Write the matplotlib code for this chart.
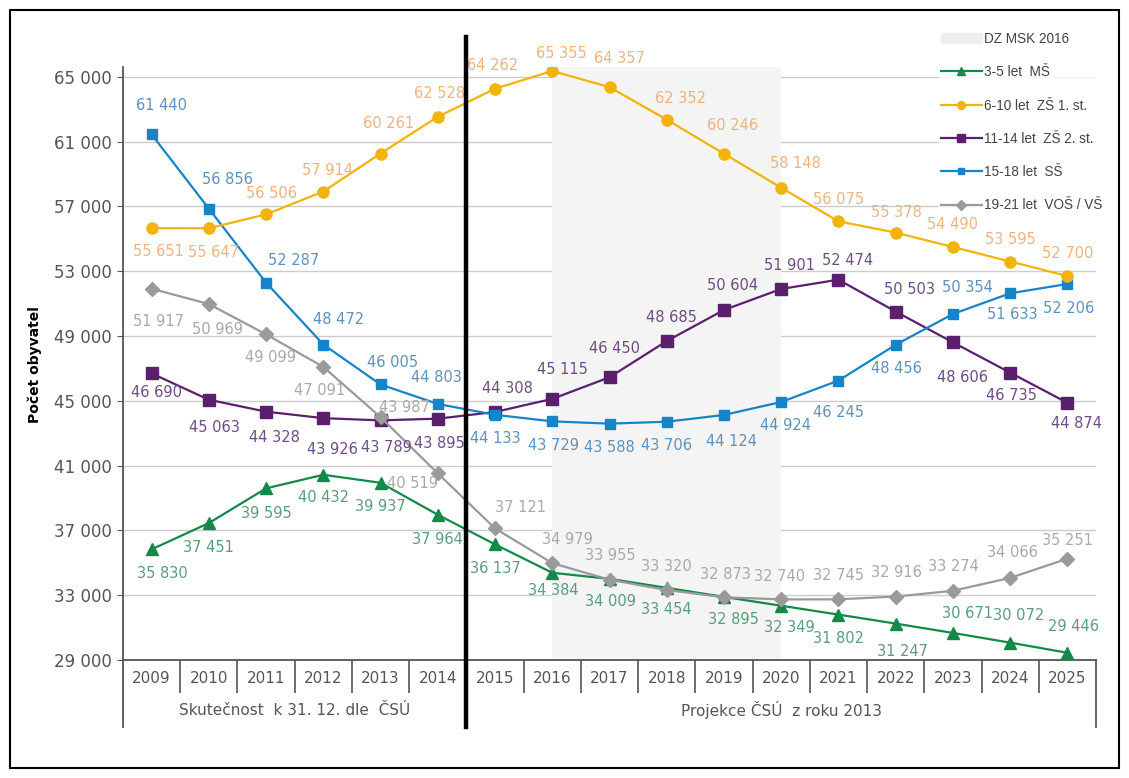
import matplotlib
matplotlib.use('Agg')
import matplotlib.pyplot as plt
import matplotlib.transforms as mtransforms
from matplotlib.lines import Line2D
from matplotlib.patches import Patch, Rectangle
import numpy as np

plt.rcParams['font.family'] = ['DejaVu Sans']

years = [2009, 2010, 2011, 2012, 2013, 2014, 2015, 2016, 2017,
         2018, 2019, 2020, 2021, 2022, 2023, 2024, 2025]

ms_3_5 = [35830, 37451, 39595, 40432, 39937, 37964, 36137, 34384, 34009,
          33454, 32895, 32349, 31802, 31247, 30671, 30072, 29446]
zs1_6_10 = [55651, 55647, 56506, 57914, 60261, 62528, 64262, 65355, 64357,
            62352, 60246, 58148, 56075, 55378, 54490, 53595, 52700]
zs2_11_14 = [46690, 45063, 44328, 43926, 43789, 43895, 44308, 45115, 46450,
             48685, 50604, 51901, 52474, 50503, 48606, 46735, 44874]
ss_15_18 = [61440, 56856, 52287, 48472, 46005, 44803, 44133, 43729, 43588,
            43706, 44124, 44924, 46245, 48456, 50354, 51633, 52206]
vs_19_21 = [51917, 50969, 49099, 47091, 43987, 40519, 37121, 34979, 33955,
            33320, 32873, 32740, 32745, 32916, 33274, 34066, 35251]

legend_names = ['3-5 let  MŠ', '6-10 let  ZŠ 1. st.', '11-14 let  ZŠ 2. st.',
                '15-18 let  SŠ', '19-21 let  VOŠ / VŠ']
band_label = 'DZ MSK 2016'
group_labels = ['Skutečnost  k 31. 12. dle  ČSÚ', 'Projekce ČSÚ  z roku 2013']
y_ticks = list(range(29000, 65001, 4000))

# label offsets in pixels (dx right, dy down) per point
off_ms = [(11, 24), (0, 24), (0, 25), (0, 23), (0, 24), (0, 25), (0, 24), (1, 18), (1, 23),
          (0, 22), (9, 23), (8, 22), (0, 24), (7, 28), (15, -19), (8, -27), (6, -26)]
off_zs1 = [(7, 23), (5, 24), (5, -21), (4, -21), (8, -30), (2, -23), (-2, -23), (9, -17), (10, -29),
           (14, -21), (9, -28), (14, -24), (0, -22), (1, -20), (0, -23), (0, -22), (0, -23)]
off_zs2 = [(5, 19), (6, 28), (8, 26), (9, 31), (6, 27), (2, 25), (12, -23), (10, -29), (5, -29),
           (5, -24), (9, -24), (8, -23), (9, -19), (14, -22), (10, 35), (1, 23), (9, 21)]
off_ss = [(10, -29), (19, -29), (28, -22), (15, -25), (12, -22), (-1, -26), (0, 24), (1, 24), (0, 24),
          (0, 24), (8, 27), (4, 24), (0, 32), (1, 24), (15, -27), (2, 21), (1, 24)]
off_vs = [(7, 33), (9, 25), (4, 23), (-4, 24), (24, -10), (-25, 10), (25, -21), (15, -24), (1, -24),
          (0, -24), (1, -23), (-2, -23), (0, -24), (1, -24), (1, -24), (2, -25), (0, -18)]

series = [
    # values, offsets, line colour, label colour, marker, marker size, zorder
    (ms_3_5, off_ms, '#13894a', '#5c9c7a', '^', 8, 5),
    (zs1_6_10, off_zs1, '#f3b30a', '#ebb482', 'o', 8, 7),
    (zs2_11_14, off_zs2, '#5b1f6e', '#6f4d82', 's', 9, 3),
    (ss_15_18, off_ss, '#1684c8', '#5e92bb', 's', 7, 4),
    (vs_19_21, off_vs, '#9a9a9a', '#a9a9a9', 'D', 7, 6),
]

fmt = lambda v: f'{v:,}'.replace(',', ' ')

W, H = 1129, 778
fig = plt.figure(figsize=(W / 100, H / 100), dpi=100)
ax = fig.add_axes([123 / W, 1 - 660 / H, (1096 - 123) / W, (660 - 67) / H])

x = np.arange(len(years))
ax.set_xlim(-0.5, len(years) - 0.5)
ax.set_ylim(29000, 65600)

# grid + projection band
ax.set_axisbelow(True)
ax.yaxis.grid(True, color='#cccccc', linewidth=1)
ax.axvspan(7, 11, color='#f4f4f4', zorder=1, lw=0)

handles = [Patch(color='#eeeeee', label=band_label)]
for (vals, offs, col, lcol, mk, msz, zo), name in zip(series, legend_names):
    ax.plot(x, vals, color=col, lw=1.6, marker=mk, markersize=msz, zorder=zo)
    handles.append(Line2D([], [], color=col, lw=1.6, marker=mk, markersize=msz * 0.7, label=name))
    for xi, v, (dx, dy) in zip(x, vals, offs):
        ax.annotate(fmt(v), (xi, v), xytext=(dx, -dy), textcoords='offset pixels',
                    ha='center', va='center', color=lcol, fontsize=10.5, zorder=8)

# axes styling
for s in ['top', 'right']:
    ax.spines[s].set_visible(False)
ax.spines['left'].set_color('#555555')
ax.spines['bottom'].set_color('#555555')
ax.spines['left'].set_linewidth(1.3)
ax.spines['bottom'].set_linewidth(1.3)

ax.set_yticks(y_ticks)
ax.set_yticklabels([fmt(v) for v in y_ticks])
ax.tick_params(axis='y', length=4, color='#555555', labelcolor='#555555', labelsize=12, pad=4)

ax.set_xticks(x)
ax.set_xticklabels([str(y) for y in years])
ax.set_xticks(x[:-1] + 0.5, minor=True)
ax.tick_params(axis='x', which='major', length=0, labelcolor='#555555', labelsize=11, pad=8)
ax.tick_params(axis='x', which='minor', length=24, width=1.2, color='#555555')

# outer boundaries of the category table and group labels
trans = mtransforms.blended_transform_factory(ax.transData, ax.transAxes)
for xb in [-0.5, len(years) - 0.5]:
    ax.plot([xb, xb], [0, -0.113], transform=trans, color='#555555', lw=1.3, clip_on=False)
ax.plot([5.5, 5.5], [-0.113, 1.05], transform=trans, color='black', lw=3.2,
        clip_on=False, zorder=9)
ax.text(2.5, -0.085, group_labels[0], transform=trans, ha='center', va='center',
        color='#555555', fontsize=11)
ax.text(11, -0.085, group_labels[1], transform=trans, ha='center', va='center',
        color='#555555', fontsize=11)

fig.text(35 / W, 1 - 365 / H, 'Počet obyvatel', rotation=90, ha='center', va='center',
         fontsize=10, fontweight='bold')

leg = fig.legend(handles=handles, loc='upper left', bbox_to_anchor=(932 / W, 1 - 23 / H),
                 frameon=True, handlelength=3.0, labelspacing=1.42,
                 borderpad=0.15, handletextpad=0.2,
                 prop={'family': 'Liberation Sans', 'size': 9.8})
leg.get_frame().set_facecolor('white')
leg.get_frame().set_edgecolor('white')
for t in leg.get_texts():
    t.set_color('#444444')

fig.patches.append(Rectangle((10 / W, 10 / H), 1 - 20 / W, 1 - 20 / H, transform=fig.transFigure,
                             fill=False, edgecolor='black', linewidth=1.5))

fig.savefig('out.png', dpi=100)
